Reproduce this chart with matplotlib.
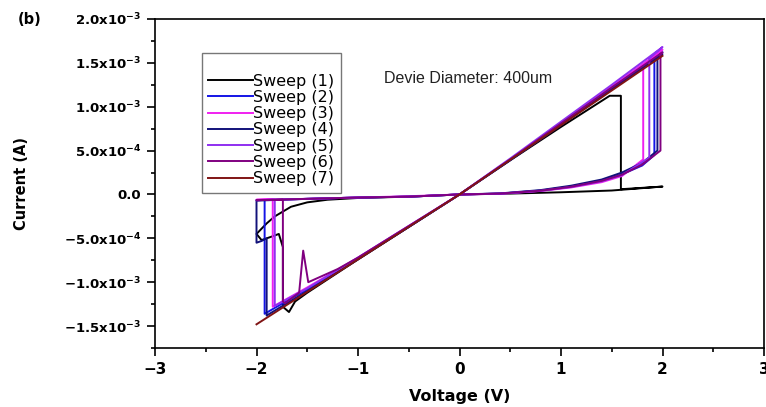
import numpy as np
import matplotlib
matplotlib.use("Agg")
import matplotlib.pyplot as plt
from matplotlib.ticker import MultipleLocator

plt.rcParams["font.family"] = ["DejaVu Sans"]
plt.rcParams["mathtext.fontset"] = "custom"
plt.rcParams["mathtext.bf"] = "DejaVu Sans:bold"
plt.rcParams["mathtext.rm"] = "DejaVu Sans:bold"
plt.rcParams["mathtext.default"] = "bf"

# I-V sweeps, voltage in V and current in mA
sweep1_v = [0, 0.5, 1.0, 1.5, 2.0, 1.59, 1.59, 1.48, 1.0, 0.5, 0, -0.5, -1.0, -1.5,
            -1.62, -1.68, -1.72, -1.74, -1.74, -1.78, -1.85, -1.95, -2.0, -1.9,
            -1.82, -1.66, -1.5, -1.3, -1.0, -0.5, 0]
sweep1_i = [0, 0.01, 0.025, 0.045, 0.09, 0.06, 1.125, 1.125, 0.77, 0.39, 0, -0.37,
            -0.74, -1.12, -1.22, -1.34, -1.30, -1.28, -0.60, -0.45, -0.48, -0.52,
            -0.45, -0.33, -0.25, -0.14, -0.09, -0.06, -0.04, -0.025, 0]

sweep2_v = [0, 0.4, 0.8, 1.1, 1.4, 1.6, 1.8, 1.92, 1.92, 2.0, 1.5, 1.0, 0.5, 0,
            -0.5, -1.0, -1.5, -1.92, -1.92, -2.0, -1.5, -1.0, -0.5, 0]
sweep2_i = [0, 0.01, 0.045, 0.09, 0.16, 0.23, 0.33, 0.45, 1.55, 1.62, 1.21, 0.80,
            0.40, 0, -0.37, -0.73, -1.08, -1.36, -0.06, -0.065, -0.05, -0.035,
            -0.025, 0]

sweep3_v = [0, 0.4, 0.8, 1.1, 1.4, 1.6, 1.81, 1.81, 2.0, 1.5, 1.0, 0.5, 0,
            -0.5, -1.0, -1.5, -1.84, -1.84, -2.0, -1.5, -1.0, -0.5, 0]
sweep3_i = [0, 0.008, 0.04, 0.08, 0.14, 0.21, 0.40, 1.47, 1.65, 1.23, 0.81, 0.40,
            0, -0.36, -0.72, -1.06, -1.28, -0.055, -0.06, -0.05, -0.035, -0.02, 0]

sweep4_v = [0, 0.4, 0.8, 1.1, 1.4, 1.6, 1.8, 1.95, 1.95, 2.0, 1.5, 1.0, 0.5, 0,
            -0.5, -1.0, -1.5, -1.90, -1.90, -1.95, -2.0, -2.0, -1.5, -1.0, -0.5, 0]
sweep4_i = [0, 0.012, 0.05, 0.10, 0.17, 0.25, 0.36, 0.50, 1.55, 1.60, 1.20, 0.79,
            0.39, 0, -0.37, -0.74, -1.10, -1.38, -0.50, -0.53, -0.55, -0.07,
            -0.05, -0.035, -0.025, 0]

sweep5_v = [0, 0.4, 0.8, 1.1, 1.4, 1.6, 1.87, 1.87, 2.0, 1.5, 1.0, 0.5, 0,
            -0.5, -1.0, -1.5, -1.82, -1.82, -2.0, -1.5, -1.0, -0.5, 0]
sweep5_i = [0, 0.009, 0.042, 0.085, 0.15, 0.22, 0.42, 1.55, 1.68, 1.25, 0.83, 0.41,
            0, -0.36, -0.72, -1.07, -1.27, -0.06, -0.065, -0.05, -0.035, -0.025, 0]

sweep6_v = [0, 0.4, 0.8, 1.1, 1.4, 1.6, 1.8, 1.98, 1.98, 2.0, 1.5, 1.0, 0.5, 0,
            -0.5, -1.0, -1.2, -1.49, -1.54, -1.58, -1.72, -1.74, -1.74, -2.0,
            -1.5, -1.0, -0.5, 0]
sweep6_i = [0, 0.01, 0.043, 0.088, 0.155, 0.225, 0.34, 0.50, 1.60, 1.62, 1.22,
            0.81, 0.40, 0, -0.36, -0.72, -0.85, -1.00, -0.64, -1.12, -1.24, -1.22,
            -0.06, -0.065, -0.05, -0.035, -0.025, 0]

sweep7_v = [-2.0, -1.0, 0, 1.0, 2.0]
sweep7_i = [-1.48, -0.74, 0, 0.79, 1.58]

labels = ["Sweep (1)", "Sweep (2)", "Sweep (3)", "Sweep (4)", "Sweep (5)",
          "Sweep (6)", "Sweep (7)"]
colors = ["#000000", "#1414e6", "#f020f0", "#12127a", "#8f2ff0", "#800080", "#801414"]

ytick_vals = [-1.5e-3, -1.0e-3, -5.0e-4, 0.0, 5.0e-4, 1.0e-3, 1.5e-3, 2.0e-3]
ytick_text = [r"$-1.5x10^{-3}$", r"$-1.0x10^{-3}$", r"$-5.0x10^{-4}$", "0.0",
              r"$5.0x10^{-4}$", r"$1.0x10^{-3}$", r"$1.5x10^{-3}$", r"$2.0x10^{-3}$"]

sweeps = [(sweep1_v, sweep1_i), (sweep2_v, sweep2_i), (sweep3_v, sweep3_i),
          (sweep4_v, sweep4_i), (sweep5_v, sweep5_i), (sweep6_v, sweep6_i),
          (sweep7_v, sweep7_i)]

fig = plt.figure(figsize=(7.66, 4.07), dpi=100)
fig.subplots_adjust(left=155 / 766, right=764 / 766, top=1 - 19 / 407, bottom=1 - 348 / 407)
ax = fig.add_subplot(111)

for (v, i), lab, c in zip(sweeps, labels, colors):
    ax.plot(v, np.array(i) * 1e-3, color=c, lw=1.4, label=lab)

ax.set_xlim(-3, 3)
ax.set_ylim(-1.75e-3, 2.0e-3)
ax.xaxis.set_major_locator(MultipleLocator(1))
ax.xaxis.set_minor_locator(MultipleLocator(0.5))
ax.set_yticks(ytick_vals)
ax.set_yticklabels(ytick_text)
ax.yaxis.set_minor_locator(MultipleLocator(2.5e-4))

ax.tick_params(which="both", direction="out", width=1.2)
ax.tick_params(which="major", length=6)
ax.tick_params(which="minor", length=3)
ax.tick_params(axis="x", labelsize=11, pad=4)
ax.tick_params(axis="y", labelsize=9.5, pad=4)
for t in ax.get_xticklabels() + ax.get_yticklabels():
    t.set_fontweight("bold")
for s in ax.spines.values():
    s.set_linewidth(1.2)

ax.set_xlabel("Voltage (V)", fontsize=11.5, fontweight="bold", labelpad=9)
ax.set_ylabel("Current (A)", fontsize=10.5, fontweight="bold", labelpad=25)

leg = ax.legend(loc="upper left", bbox_to_anchor=(0.077, 0.897), title=" ",
                fontsize=11.5, title_fontsize=8.5, frameon=True, fancybox=False,
                edgecolor="#555555", handlelength=2.8, handletextpad=0.0,
                labelspacing=0.08, borderpad=0.4, borderaxespad=0)
leg.get_frame().set_linewidth(1.0)

fig.text(384 / 766, 1 - 83 / 407, "Devie Diameter: 400um", fontsize=11.5,
         family="Liberation Sans", color="#222222")
fig.text(18 / 766, 1 - 24 / 407, "(b)", fontsize=10.5, fontweight="bold")

fig.savefig("out.png", dpi=100)
